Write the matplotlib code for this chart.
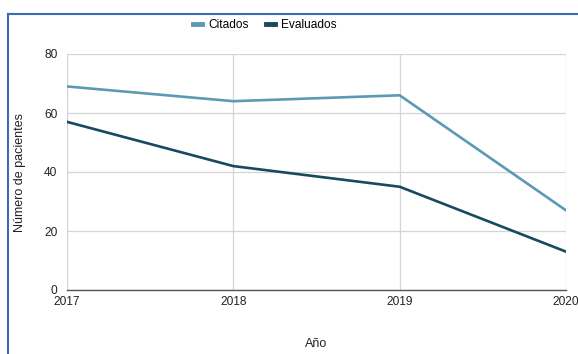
import matplotlib
matplotlib.use("Agg")
import matplotlib.pyplot as plt
from matplotlib.lines import Line2D

plt.rcParams['font.family'] = ['Liberation Sans', 'DejaVu Sans']

years = [2017, 2018, 2019, 2020]
citados = [69, 64, 66, 27]
evaluados = [57, 42, 35, 13]
series_names = ["Citados", "Evaluados"]
colors = ["#5b9ab4", "#174a60"]

fig = plt.figure(figsize=(5.78, 3.54), dpi=100)
ax = fig.add_axes([67/578, 1-290/354, (566-67)/578, (290-54)/354])

ax.plot(years, citados, color=colors[0], lw=1.9, label=series_names[0])
ax.plot(years, evaluados, color=colors[1], lw=1.9, label=series_names[1])

ax.set_xlim(2017, 2020)
ax.set_ylim(0, 80)
ax.set_xticks(years)
ax.set_yticks([0, 20, 40, 60, 80])
ax.grid(True, color="#d4d4d4", lw=0.9)
ax.set_axisbelow(True)
for s in ["top", "left", "right"]:
    ax.spines[s].set_visible(False)
ax.spines["bottom"].set_color("#555555")
ax.spines["bottom"].set_linewidth(1.0)
ax.tick_params(axis="both", length=0, labelsize=8.6, colors="#222222")
ax.tick_params(axis="x", pad=4)
ax.tick_params(axis="y", pad=7)
ax.set_xlabel("Año", fontsize=9, color="#222222")
ax.set_ylabel("Número de pacientes", fontsize=9, color="#222222")
ax.xaxis.set_label_coords(0.5, -0.205)
ax.yaxis.set_label_coords(-0.083, 0.5)

handles = [Line2D([0], [0], color=c, lw=3.5) for c in colors]
fig.legend(handles, series_names, loc="center", bbox_to_anchor=(265/578, 1-25/354),
           ncol=2, frameon=False, fontsize=8.6, handlelength=0.75, columnspacing=1.5,
           handletextpad=0.5)

# decorative frame border
fig.add_artist(Line2D([8/578, 8/578], [0, 1-14/354], transform=fig.transFigure, color="#3a6db5", lw=1.5))
fig.add_artist(Line2D([8/578, 1], [1-14/354, 1-14/354], transform=fig.transFigure, color="#3a6db5", lw=1.5))

fig.savefig("out.png", dpi=100)
